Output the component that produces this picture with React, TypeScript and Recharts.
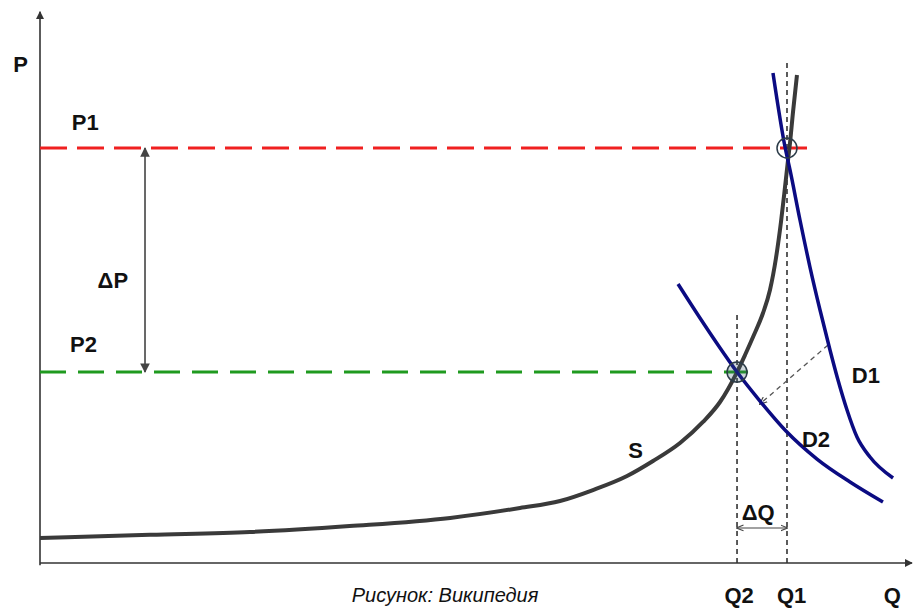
import {
  ComposedChart,
  Line,
  XAxis,
  YAxis,
  ReferenceLine,
  ReferenceDot,
} from "recharts";

// Supply curve S (quantity q, price p)
const supplyS = [
  { q: 0, p: 4.6 },
  { q: 12.8, p: 5.2 },
  { q: 24.4, p: 5.7 },
  { q: 36.0, p: 6.8 },
  { q: 47.7, p: 8.3 },
  { q: 55.81, p: 10.13 },
  { q: 60.47, p: 11.42 },
  { q: 64.3, p: 13.44 },
  { q: 68.26, p: 16.02 },
  { q: 71.28, p: 18.78 },
  { q: 74.42, p: 22.1 },
  { q: 77.09, p: 25.97 },
  { q: 79.07, p: 29.65 },
  { q: 81.05, p: 35.17 },
  { q: 81.98, p: 38.31 },
  { q: 82.91, p: 41.62 },
  { q: 84.07, p: 46.04 },
  { q: 84.88, p: 50.28 },
  { q: 85.58, p: 56.17 },
  { q: 86.16, p: 62.8 },
  { q: 86.63, p: 69.24 },
  { q: 86.98, p: 74.22 },
  { q: 87.21, p: 77.35 },
  { q: 87.56, p: 83.06 },
  { q: 88.02, p: 89.87 },
];

// Demand before (D1) and after (D2) the shift
const demandD1 = [
  { q: 85.23, p: 90.24 },
  { q: 86.63, p: 76.61 },
  { q: 87.21, p: 72.38 },
  { q: 88.37, p: 63.17 },
  { q: 89.53, p: 54.51 },
  { q: 90.7, p: 46.59 },
  { q: 91.86, p: 39.23 },
  { q: 92.79, p: 33.7 },
  { q: 93.84, p: 28.18 },
  { q: 95.0, p: 23.2 },
  { q: 96.51, p: 19.52 },
  { q: 99.19, p: 15.65 },
];

const demandD2 = [
  { q: 74.19, p: 51.38 },
  { q: 76.74, p: 45.12 },
  { q: 78.84, p: 40.15 },
  { q: 81.05, p: 35.17 },
  { q: 83.72, p: 29.83 },
  { q: 86.74, p: 24.31 },
  { q: 90.35, p: 19.15 },
  { q: 94.19, p: 14.92 },
  { q: 98.02, p: 11.23 },
];

// Equilibria
const P1 = 76.43;
const P2 = 35.17;
const Q1 = 86.86;
const Q2 = 81.05;

// where the guide lines stop
const P1_END = 89.3;
const P2_END = 82.33;
const Q1_TOP = 92.27;
const Q2_TOP = 45.67;
const DP_AT_Q = 12.21;
const DQ_AT_P = 6.45;
const SHIFT_FROM = { q: 91.63, p: 40.15 };
const SHIFT_TO = { q: 83.72, p: 29.28 };

const labels = [
  { text: "P", q: -3.1, p: 90.4, anchor: "start" },
  { text: "P1", q: 3.7, p: 79.7, anchor: "start" },
  { text: "ΔP", q: 6.7, p: 50.6, anchor: "start" },
  { text: "P2", q: 3.5, p: 38.9, anchor: "start" },
  { text: "S", q: 68.4, p: 19.3, anchor: "start" },
  { text: "D1", q: 94.4, p: 33.1, anchor: "start" },
  { text: "D2", q: 88.6, p: 21.4, anchor: "start" },
  { text: "ΔQ", q: 81.6, p: 7.9, anchor: "start" },
  { text: "Q2", q: 81.3, p: -7.4, anchor: "middle" },
  { text: "Q1", q: 87.4, p: -7.4, anchor: "middle" },
  { text: "Q", q: 99.1, p: -7.4, anchor: "middle" },
];

const CAPTION = "Рисунок: Википедия";

const FONT = "'Liberation Sans', Arial, sans-serif";

function seg(
  stroke: string,
  width: number,
  dash?: string,
  start?: string,
  end?: string
) {
  return (props: any) => (
    <line
      x1={props.x1}
      y1={props.y1}
      x2={props.x2}
      y2={props.y2}
      stroke={stroke}
      strokeWidth={width}
      strokeDasharray={dash}
      markerStart={start ? `url(#${start})` : undefined}
      markerEnd={end ? `url(#${end})` : undefined}
    />
  );
}

function textShape(text: string, size: number, anchor = "start", italic = false) {
  return (props: any) => (
    <text
      x={props.cx}
      y={props.cy}
      fontFamily={FONT}
      fontSize={size}
      fontWeight={italic ? "normal" : "bold"}
      fontStyle={italic ? "italic" : "normal"}
      textAnchor={anchor}
      fill="#111"
    >
      {text}
    </text>
  );
}

export default function App() {
  return (
    <div style={{ position: "absolute", left: 0, top: 0, background: "#fff" }}>
      <ComposedChart
        width={913}
        height={608}
        margin={{ top: 20, right: 13, bottom: 45, left: 40 }}
      >
        <defs>
          <marker
            id="axisArrow"
            viewBox="0 0 10 10"
            refX="9"
            refY="5"
            markerWidth="5"
            markerHeight="5"
            orient="auto-start-reverse"
          >
            <path d="M0,0 L10,5 L0,10 z" fill="#333" />
          </marker>
          <marker
            id="smallArrow"
            viewBox="0 0 10 10"
            refX="9"
            refY="5"
            markerWidth="6"
            markerHeight="6"
            orient="auto-start-reverse"
          >
            <path d="M0,0 L10,5 L0,10 z" fill="#444" />
          </marker>
          <marker
            id="thinArrow"
            viewBox="0 0 10 10"
            refX="9"
            refY="5"
            markerWidth="6"
            markerHeight="6"
            orient="auto-start-reverse"
          >
            <path d="M0,1 L10,5 L0,9" fill="none" stroke="#444" strokeWidth="1.5" />
          </marker>
        </defs>
        <XAxis type="number" dataKey="q" domain={[0, 100]} hide allowDataOverflow />
        <YAxis type="number" dataKey="p" domain={[0, 100]} hide allowDataOverflow />

        {/* axes */}
        <ReferenceLine
          segment={[{ x: 0, y: -0.4 }, { x: 0, y: 101.5 }]}
          ifOverflow="visible"
          shape={seg("#333", 1.6, undefined, undefined, "axisArrow")}
        />
        <ReferenceLine
          segment={[{ x: 0, y: 0 }, { x: 101.4, y: 0 }]}
          ifOverflow="visible"
          shape={seg("#333", 1.6, undefined, undefined, "axisArrow")}
        />

        {/* price levels */}
        <ReferenceLine
          segment={[{ x: 0, y: P1 }, { x: P1_END, y: P1 }]}
          ifOverflow="visible"
          shape={seg("#f02020", 3, "27 10")}
        />
        <ReferenceLine
          segment={[{ x: 0, y: P2 }, { x: P2_END, y: P2 }]}
          ifOverflow="visible"
          shape={seg("#1f9a1f", 3, "26 12")}
        />

        {/* quantity guides */}
        <ReferenceLine
          segment={[{ x: Q1, y: 0 }, { x: Q1, y: Q1_TOP }]}
          ifOverflow="visible"
          shape={seg("#333", 1.6, "5 4")}
        />
        <ReferenceLine
          segment={[{ x: Q2, y: 0 }, { x: Q2, y: Q2_TOP }]}
          ifOverflow="visible"
          shape={seg("#333", 1.6, "5 4")}
        />

        {/* ΔP and ΔQ */}
        <ReferenceLine
          segment={[{ x: DP_AT_Q, y: P1 }, { x: DP_AT_Q, y: P2 }]}
          ifOverflow="visible"
          shape={seg("#444", 1.6, undefined, "smallArrow", "smallArrow")}
        />
        <ReferenceLine
          segment={[{ x: Q2, y: DQ_AT_P }, { x: Q1, y: DQ_AT_P }]}
          ifOverflow="visible"
          shape={seg("#444", 1.2, undefined, "thinArrow", "thinArrow")}
        />

        {/* demand shift */}
        <ReferenceLine
          segment={[SHIFT_FROM, SHIFT_TO].map((d) => ({ x: d.q, y: d.p }))}
          ifOverflow="visible"
          shape={seg("#555", 1.3, "5 4", undefined, "thinArrow")}
        />

        <Line
          data={supplyS}
          dataKey="p"
          type="monotone"
          stroke="#3a3a3a"
          strokeWidth={4}
          dot={false}
          isAnimationActive={false}
        />
        <Line
          data={demandD1}
          dataKey="p"
          type="monotone"
          stroke="#0b0b82"
          strokeWidth={3.5}
          dot={false}
          isAnimationActive={false}
        />
        <Line
          data={demandD2}
          dataKey="p"
          type="monotone"
          stroke="#0b0b82"
          strokeWidth={3.5}
          dot={false}
          isAnimationActive={false}
        />

        <ReferenceDot x={Q1} y={P1} r={10} fill="none" stroke="#2b3b48" strokeWidth={1.5} ifOverflow="visible" />
        <ReferenceDot x={Q2} y={P2} r={10} fill="rgba(60,90,110,0.25)" stroke="#2b3b48" strokeWidth={1.5} ifOverflow="visible" />

        {labels.map((l) => (
          <ReferenceDot
            key={l.text}
            x={l.q}
            y={l.p}
            r={0}
            ifOverflow="visible"
            shape={textShape(l.text, 22, l.anchor)}
          />
        ))}
        <ReferenceDot
          x={47.1}
          y={-7.2}
          r={0}
          ifOverflow="visible"
          shape={textShape(CAPTION, 20, "middle", true)}
        />
      </ComposedChart>
    </div>
  );
}
